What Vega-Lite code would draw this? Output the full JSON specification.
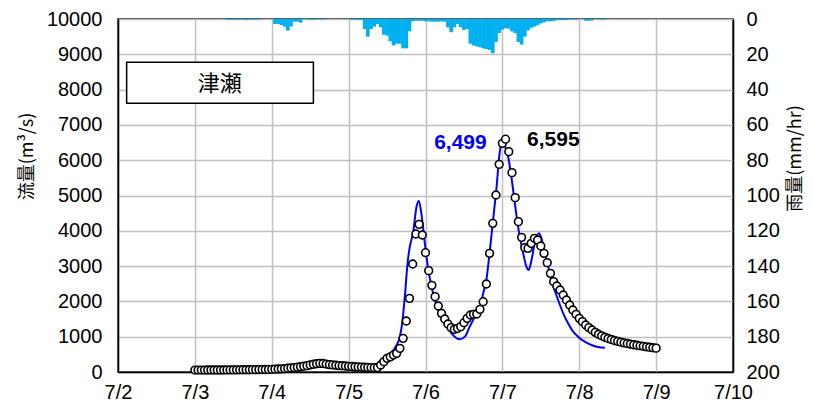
{
 "$schema": "https://vega.github.io/schema/vega-lite/v6.json",
 "width": 615, "height": 353,
 "autosize": "none",
 "padding": {"left": 118, "top": 19, "right": 80, "bottom": 38},
 "background": "white",
 "config": {
  "view": {"stroke": "black", "strokeWidth": 1.5},
  "axis": {"domainColor": "black", "domainWidth": 1.5, "ticks": false, "labelFont": "Liberation Sans Narrow, Liberation Sans", "labelFontSize": 20, "labelColor": "black", "labelOverlap": false, "gridColor": "#c0c0c0", "gridWidth": 1.5, "titleFont": "Noto Sans CJK JP", "titleFontSize": 18, "titleFontWeight": "normal", "titleColor": "#000000"}
 },
 "datasets": {
  "rain": [{"h":34,"r":0.4},{"h":35,"r":0.4},{"h":36,"r":0.4},{"h":37,"r":0.4},{"h":38,"r":0.3},{"h":39,"r":0.3},{"h":40,"r":0.4},{"h":41,"r":0.4},{"h":42,"r":0.3},{"h":43,"r":0.3},{"h":44,"r":0.3},
   {"h":49,"r":2.8},{"h":50,"r":2.8},{"h":51,"r":3.4},{"h":52,"r":4.3},{"h":53,"r":6.6},{"h":54,"r":4.3},{"h":55,"r":1.5},{"h":56,"r":1.5},{"h":57,"r":2.1},
   {"h":59,"r":0.3},{"h":60,"r":0.3},{"h":61,"r":0.4},{"h":62,"r":0.3},{"h":63,"r":0.3},{"h":64,"r":0.3},
   {"h":73,"r":0.4},{"h":74,"r":0.4},{"h":75,"r":0.5},{"h":76,"r":0.5},
   {"h":77,"r":5.7},{"h":78,"r":10},{"h":79,"r":5.7},{"h":80,"r":4.3},{"h":81,"r":2.8},{"h":82,"r":4.7},{"h":83,"r":8.9},{"h":84,"r":9.4},{"h":85,"r":12.6},{"h":86,"r":15},{"h":87,"r":14},{"h":88,"r":14},{"h":89,"r":16.6},{"h":90,"r":16.6},{"h":91,"r":7},{"h":92,"r":1.3},{"h":93,"r":1},{"h":94,"r":1},{"h":95,"r":1},{"h":96,"r":1.3},{"h":97,"r":1.3},{"h":98,"r":1.5},{"h":99,"r":1.5},{"h":100,"r":1.5},{"h":101,"r":1.3},{"h":102,"r":1.5},{"h":103,"r":4.7},{"h":104,"r":7.5},{"h":105,"r":4.7},{"h":106,"r":2.8},{"h":107,"r":4.7},{"h":108,"r":6.2},{"h":109,"r":5.7},
   {"h":110,"r":14},{"h":111,"r":15},{"h":112,"r":15.5},{"h":113,"r":16},{"h":114,"r":16.6},{"h":115,"r":17},{"h":116,"r":17.5},{"h":117,"r":19.4},{"h":118,"r":13},{"h":119,"r":8},{"h":120,"r":6},{"h":121,"r":5.2},{"h":122,"r":5.5},{"h":123,"r":7},{"h":124,"r":8},{"h":125,"r":13},{"h":126,"r":14.5},{"h":127,"r":10},{"h":128,"r":6.5},{"h":129,"r":5},{"h":130,"r":4.3},{"h":131,"r":3.5},{"h":132,"r":2.5},{"h":133,"r":1.9},{"h":134,"r":1.3},{"h":135,"r":1.3},{"h":136,"r":1.2},{"h":137,"r":0.6},{"h":138,"r":0.6},{"h":139,"r":0.6},{"h":140,"r":0.5},{"h":141,"r":0.3},{"h":142,"r":0.3},{"h":143,"r":0.3},{"h":146,"r":1},{"h":147,"r":1},{"h":148,"r":0.8},{"h":150,"r":0.3},{"h":151,"r":0.3},{"h":152,"r":0.3}],
  "obs": [{"h":24,"q":55},{"h":25,"q":55},{"h":26,"q":55},{"h":27,"q":55},{"h":28,"q":56},{"h":29,"q":56},{"h":30,"q":57},{"h":31,"q":57},{"h":32,"q":58},{"h":33,"q":58},{"h":34,"q":59},{"h":35,"q":60},
   {"h":36,"q":60},{"h":37,"q":61},{"h":38,"q":62},{"h":39,"q":63},{"h":40,"q":64},{"h":41,"q":65},{"h":42,"q":66},{"h":43,"q":67},{"h":44,"q":68},{"h":45,"q":70},{"h":46,"q":72},{"h":47,"q":74},
   {"h":48,"q":76},{"h":49,"q":80},{"h":50,"q":85},{"h":51,"q":90},{"h":52,"q":96},{"h":53,"q":105},{"h":54,"q":115},{"h":55,"q":125},{"h":56,"q":138},{"h":57,"q":150},{"h":58,"q":165},{"h":59,"q":180},
   {"h":60,"q":200},{"h":61,"q":220},{"h":62,"q":235},{"h":63,"q":245},{"h":64,"q":240},{"h":65,"q":225},{"h":66,"q":210},{"h":67,"q":200},{"h":68,"q":190},{"h":69,"q":182},{"h":70,"q":176},{"h":71,"q":170},
   {"h":72,"q":160},{"h":73,"q":155},{"h":74,"q":150},{"h":75,"q":145},{"h":76,"q":140},{"h":77,"q":135},{"h":78,"q":130},{"h":79,"q":125},{"h":80,"q":122},{"h":81,"q":125},
   {"h":82,"q":198},{"h":83,"q":293},{"h":84,"q":387},{"h":85,"q":430},{"h":86,"q":481},{"h":87,"q":529},{"h":88,"q":670},{"h":89,"q":953},{"h":90,"q":1444},{"h":91,"q":2086},{"h":92,"q":3059},{"h":93,"q":3909},{"h":94,"q":4183},{"h":95,"q":3881},{"h":96,"q":3380},{"h":97,"q":2871},{"h":98,"q":2455},{"h":99,"q":2134},{"h":100,"q":1870},{"h":101,"q":1662},{"h":102,"q":1501},{"h":103,"q":1360},{"h":104,"q":1256},{"h":105,"q":1209},{"h":106,"q":1237},{"h":107,"q":1284},{"h":108,"q":1397},{"h":109,"q":1520},{"h":110,"q":1615},{"h":111,"q":1634},{"h":112,"q":1643},{"h":113,"q":1775},{"h":114,"q":1992},{"h":115,"q":2493},{"h":116,"q":3362},{"h":117,"q":4211},{"h":118,"q":5014},{"h":119,"q":5883},{"h":120,"q":6478},{"h":121,"q":6595},{"h":122,"q":6242},{"h":123,"q":5647},{"h":124,"q":4939},{"h":125,"q":4259},{"h":126,"q":3815},{"h":127,"q":3522},{"h":128,"q":3503},{"h":129,"q":3645},{"h":130,"q":3787},{"h":131,"q":3740},{"h":132,"q":3569},{"h":133,"q":3362},{"h":134,"q":3097},{"h":135,"q":2795},{"h":136,"q":2559},{"h":137,"q":2436},{"h":138,"q":2323},{"h":139,"q":2181},{"h":140,"q":2040},{"h":141,"q":1898},{"h":142,"q":1756},{"h":143,"q":1634},{"h":144,"q":1520},{"h":145,"q":1426},{"h":146,"q":1331},{"h":147,"q":1256},{"h":148,"q":1190},{"h":149,"q":1124},{"h":150,"q":1070},{"h":151,"q":1025},{"h":152,"q":985},{"h":153,"q":950},{"h":154,"q":920},{"h":155,"q":893},{"h":156,"q":868},{"h":157,"q":846},{"h":158,"q":826},{"h":159,"q":808},{"h":160,"q":790},{"h":161,"q":773},{"h":162,"q":757},{"h":163,"q":742},{"h":164,"q":728},{"h":165,"q":713},{"h":166,"q":700},{"h":167,"q":688},{"h":168,"q":676}],
  "calc": [{"h":24,"q":50},{"h":36,"q":55},{"h":48,"q":70},{"h":54,"q":120},{"h":58,"q":200},{"h":61,"q":250},{"h":63,"q":255},{"h":66,"q":210},{"h":70,"q":175},{"h":76,"q":150},{"h":80,"q":160},{"h":82,"q":230},{"h":83.3,"q":340},{"h":85.4,"q":550},{"h":86.9,"q":750},{"h":88,"q":1000},{"h":88.8,"q":1444},{"h":89.5,"q":2086},{"h":90.4,"q":3078},{"h":91.1,"q":3550},{"h":92.1,"q":3928},{"h":93.2,"q":4683},{"h":93.9,"q":4853},{"h":94.7,"q":4494},{"h":95.8,"q":3645},{"h":96.8,"q":2937},{"h":97.9,"q":2418},{"h":98.9,"q":2040},{"h":100.5,"q":1662},{"h":102,"q":1379},{"h":104.1,"q":1095},{"h":106.7,"q":926},{"h":108.3,"q":1001},{"h":109.8,"q":1284},{"h":111.4,"q":1567},{"h":113,"q":1803},{"h":114,"q":2228},{"h":115,"q":2606},{"h":116.1,"q":3456},{"h":117.1,"q":4306},{"h":118.1,"q":5156},{"h":119.2,"q":6242},{"h":120,"q":6499},{"h":121,"q":6350},{"h":121.8,"q":6100},{"h":122.8,"q":5533},{"h":123.9,"q":4778},{"h":124.9,"q":4117},{"h":126.5,"q":3362},{"h":127.5,"q":2984},{"h":128.2,"q":2890},{"h":129.1,"q":3173},{"h":130.1,"q":3645},{"h":131.4,"q":3928},{"h":132.2,"q":3787},{"h":133.2,"q":3362},{"h":134.3,"q":2984},{"h":135.3,"q":2606},{"h":136.3,"q":2323},{"h":137.4,"q":2040},{"h":139,"q":1662},{"h":140.5,"q":1379},{"h":142.1,"q":1143},{"h":143.6,"q":1001},{"h":145.7,"q":859},{"h":147.8,"q":765},{"h":149.9,"q":708},{"h":152,"q":689}],
  "one": [{}]
 },
 "layer": [
  {
   "data": {"name": "calc"},
   "mark": {"type": "line", "color": "#0000FF", "strokeWidth": 2, "interpolate": "monotone"},
   "encoding": {
    "x": {"field": "h", "type": "quantitative", "scale": {"domain": [0, 192], "nice": false, "zero": false, "padding": 0},
          "axis": {"values": [0,24,48,72,96,120,144,168,192], "labelExpr": "'7/' + (datum.value/24 + 2)", "labelFlush": false, "labelPadding": 10, "grid": true, "title": null}},
    "y": {"field": "q", "type": "quantitative", "scale": {"domain": [0, 10000], "nice": false},
          "axis": {"orient": "left", "values": [0,1000,2000,3000,4000,5000,6000,7000,8000,9000,10000], "format": "d", "grid": true, "labelPadding": 16, "title": "流量(m³/s)", "titleAngle": -90, "titleAlign": "center", "titleBaseline": "middle", "titleX": -91, "titleY": 137}}
   }
  },
  {
   "data": {"name": "rain"},
   "mark": {"type": "bar", "orient": "vertical", "width": 3.7, "color": "#00B0F0"},
   "encoding": {
    "x": {"field": "h", "type": "quantitative", "scale": {"domain": [0, 192], "nice": false, "zero": false, "padding": 0}},
    "y": {"field": "r", "type": "quantitative", "scale": {"domain": [0, 200], "reverse": true, "nice": false},
          "axis": {"orient": "right", "values": [0,20,40,60,80,100,120,140,160,180,200], "format": "d", "grid": false, "labelPadding": 13, "title": "雨量(mm/hr)", "titleAngle": -90, "titleAlign": "center", "titleBaseline": "middle", "titleX": 62, "titleY": 139}}
   }
  },
  {
   "data": {"name": "obs"},
   "mark": {"type": "point", "shape": "circle", "filled": true, "fill": "white", "stroke": "black", "strokeWidth": 1.6, "size": 60, "opacity": 1},
   "encoding": {
    "x": {"field": "h", "type": "quantitative", "scale": {"domain": [0, 192], "nice": false, "zero": false, "padding": 0}},
    "y": {"field": "q", "type": "quantitative", "scale": {"domain": [0, 10000], "nice": false}, "axis": null}
   }
  },
  {
   "data": {"name": "one"},
   "mark": {"type": "rect", "fill": "white", "stroke": "black", "strokeWidth": 1.5},
   "encoding": {
    "x": {"datum": 2.7, "type": "quantitative", "scale": {"domain": [0, 192], "nice": false, "zero": false, "padding": 0}},
    "x2": {"datum": 61},
    "y": {"datum": 8773, "type": "quantitative", "scale": {"domain": [0, 10000], "nice": false}, "axis": null},
    "y2": {"datum": 7612}
   }
  },
  {
   "data": {"name": "one"},
   "mark": {"type": "text", "text": "津瀬", "font": "Noto Sans CJK JP", "fontSize": 22, "color": "black", "align": "center", "baseline": "middle"},
   "encoding": {
    "x": {"datum": 31.8, "type": "quantitative", "scale": {"domain": [0, 192], "nice": false, "zero": false, "padding": 0}},
    "y": {"datum": 8160, "type": "quantitative", "scale": {"domain": [0, 10000], "nice": false}, "axis": null}
   }
  },
  {
   "data": {"name": "one"},
   "mark": {"type": "text", "text": "6,499", "font": "Liberation Sans Narrow, Liberation Sans", "fontWeight": "bold", "fontSize": 21, "color": "#0000FF", "align": "center", "baseline": "middle"},
   "encoding": {
    "x": {"datum": 106.9, "type": "quantitative", "scale": {"domain": [0, 192], "nice": false, "zero": false, "padding": 0}},
    "y": {"datum": 6487, "type": "quantitative", "scale": {"domain": [0, 10000], "nice": false}, "axis": null}
   }
  },
  {
   "data": {"name": "one"},
   "mark": {"type": "text", "text": "6,595", "font": "Liberation Sans Narrow, Liberation Sans", "fontWeight": "bold", "fontSize": 21, "color": "black", "align": "center", "baseline": "middle"},
   "encoding": {
    "x": {"datum": 135.9, "type": "quantitative", "scale": {"domain": [0, 192], "nice": false, "zero": false, "padding": 0}},
    "y": {"datum": 6572, "type": "quantitative", "scale": {"domain": [0, 10000], "nice": false}, "axis": null}
   }
  }
 ],
 "resolve": {"scale": {"y": "independent"}, "axis": {"y": "independent"}}
}
